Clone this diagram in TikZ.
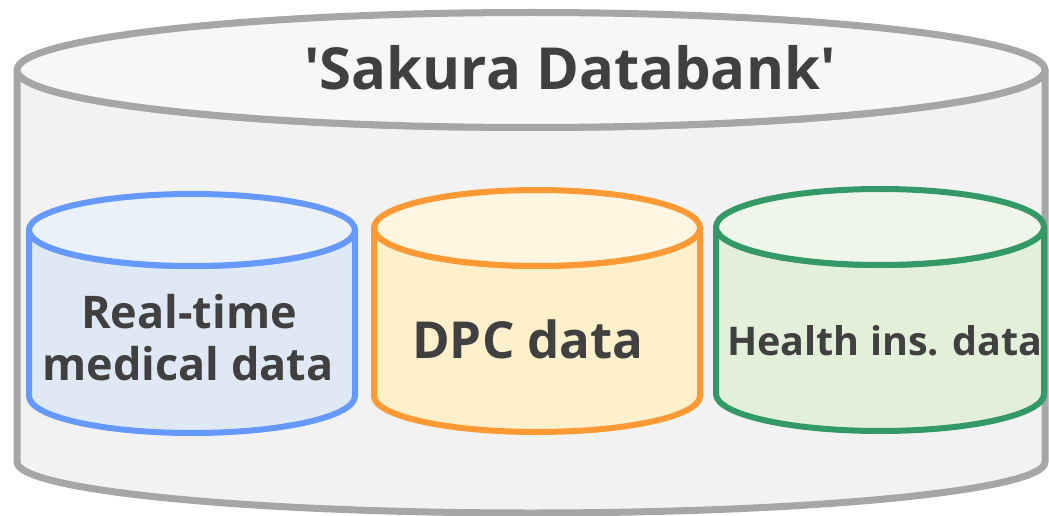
\documentclass[tikz,border=0pt]{standalone}
\usepackage{fontspec}
\setmainfont{Open Sans}
\definecolor{txt}{HTML}{404040}
\definecolor{grayline}{HTML}{A6A6A6}
\definecolor{graytop}{HTML}{F7F7F7}
\definecolor{grayside}{HTML}{F2F2F2}
\definecolor{blueline}{HTML}{6699FF}
\definecolor{bluetop}{HTML}{EAF1FA}
\definecolor{blueside}{HTML}{DEE9F5}
\definecolor{orangeline}{HTML}{FF9933}
\definecolor{orangetop}{HTML}{FFF5E0}
\definecolor{orangeside}{HTML}{FFF0CC}
\definecolor{greenline}{HTML}{339966}
\definecolor{greentop}{HTML}{EFF6E9}
\definecolor{greenside}{HTML}{E2EFD9}
% #1 cx, #2 rx, #3 ytop, #4 ry top, #5 ybot, #6 ry bot, #7 line, #8 top fill, #9 side fill
\newcommand{\dbcyl}[9]{%
  \filldraw[draw=#7, fill=#9]
    (#1-#2,#3) -- (#1-#2,#5)
    arc[start angle=180, end angle=360, x radius=#2, y radius=#6]
    -- (#1+#2,#3)
    arc[start angle=0, end angle=-180, x radius=#2, y radius=#4] -- cycle;
  \filldraw[draw=#7, fill=#8] (#1,#3) ellipse[x radius=#2, y radius=#4];
}
\tikzset{
  lbl/.style={text=txt, font=\bfseries, anchor=base, inner sep=0pt, align=center}
}
\begin{document}
\begin{tikzpicture}[x=1pt, y=1pt, line join=round]
\useasboundingbox (0,0) rectangle (1049,515);
\begin{scope}[line width=7pt]
\dbcyl{531}{514}{445}{57.5}{53}{51}{grayline}{graytop}{grayside}
\end{scope}
\begin{scope}[line width=6pt]
\dbcyl{192}{163}{285}{36}{119}{37}{blueline}{bluetop}{blueside}
\dbcyl{537}{163}{287}{38}{119}{36}{orangeline}{orangetop}{orangeside}
\dbcyl{880}{164}{288}{38}{121}{37}{greenline}{greentop}{greenside}
\end{scope}
\node[lbl, font=\bfseries\fontsize{58}{58}\selectfont] (title) at (570,425) {\textquotesingle Sakura Databank\textquotesingle};
\node[lbl, font=\bfseries\fontsize{45}{45}\selectfont] (rt1) at (189,187) {Real-time};
\node[lbl, font=\bfseries\fontsize{45}{45}\selectfont] (rt2) at (188,135) {medical data};
\node[lbl, font=\bfseries\fontsize{51}{51}\selectfont] (dpc) at (528,157) {DPC data};
\node[lbl, font=\bfseries\fontsize{39.5}{39.5}\selectfont] (hid) at (885,160) {Health ins. data};
\end{tikzpicture}
\end{document}
